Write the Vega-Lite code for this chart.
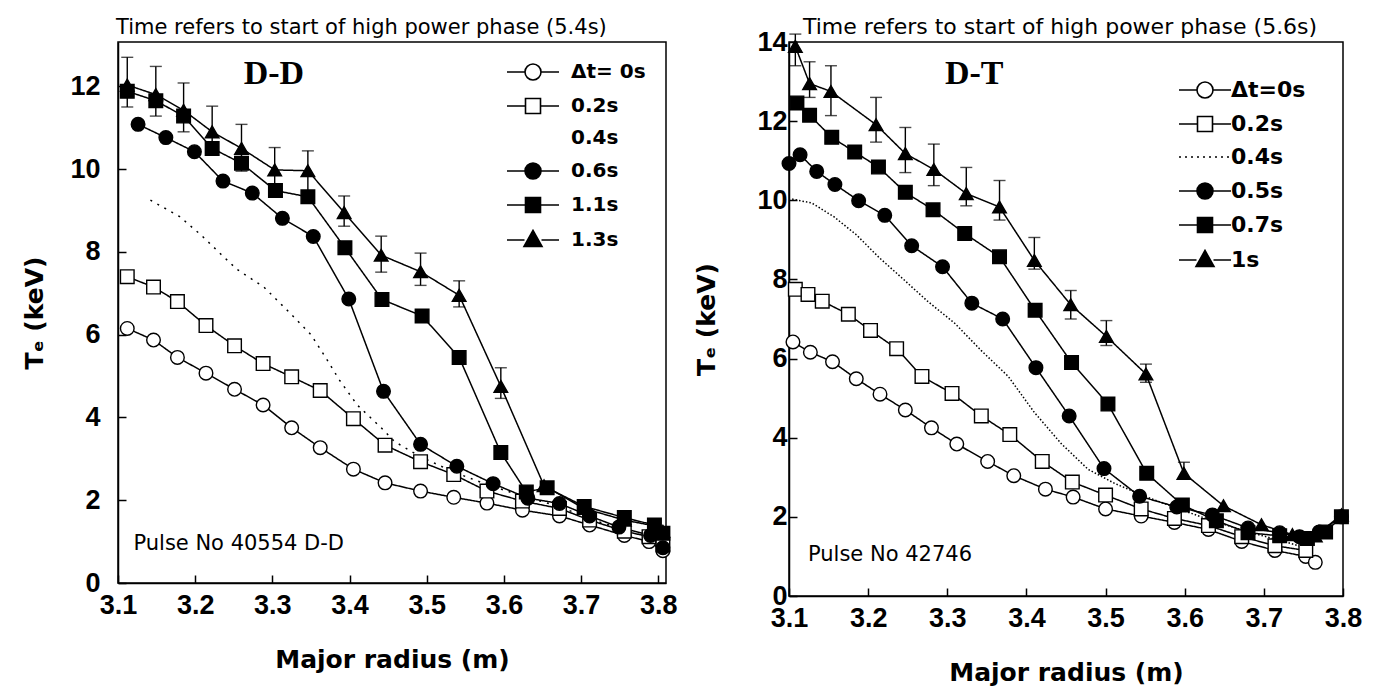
{
  "$schema": "https://vega.github.io/schema/vega-lite/v6.json",
  "padding": {"left": 22, "top": 15, "right": 5, "bottom": 5},
  "spacing": 16,
  "resolve": {"scale": {"x": "independent", "y": "independent", "shape": "independent", "fill": "independent", "strokeDash": "independent"}, "legend": {"shape": "independent", "fill": "independent"}},
  "hconcat": [
    {
      "width": 548,
      "height": 541,
      "title": {"text": "Time refers to start of high power phase (5.4s)", "fontSize": 21, "offset": 4, "dx": -2, "frame": "group"},
      "data": {"values": [
        {"series": "Δt= 0s", "r": 3.112, "te": 6.15}, {"series": "Δt= 0s", "r": 3.146, "te": 5.87}, {"series": "Δt= 0s", "r": 3.177, "te": 5.45}, {"series": "Δt= 0s", "r": 3.214, "te": 5.07}, {"series": "Δt= 0s", "r": 3.251, "te": 4.68}, {"series": "Δt= 0s", "r": 3.288, "te": 4.30}, {"series": "Δt= 0s", "r": 3.325, "te": 3.75}, {"series": "Δt= 0s", "r": 3.362, "te": 3.27}, {"series": "Δt= 0s", "r": 3.405, "te": 2.75}, {"series": "Δt= 0s", "r": 3.446, "te": 2.42}, {"series": "Δt= 0s", "r": 3.492, "te": 2.22}, {"series": "Δt= 0s", "r": 3.535, "te": 2.07}, {"series": "Δt= 0s", "r": 3.578, "te": 1.93}, {"series": "Δt= 0s", "r": 3.624, "te": 1.76}, {"series": "Δt= 0s", "r": 3.672, "te": 1.62}, {"series": "Δt= 0s", "r": 3.711, "te": 1.40}, {"series": "Δt= 0s", "r": 3.756, "te": 1.15}, {"series": "Δt= 0s", "r": 3.788, "te": 1.00}, {"series": "Δt= 0s", "r": 3.806, "te": 0.78},
        {"series": "0.2s", "r": 3.112, "te": 7.40}, {"series": "0.2s", "r": 3.146, "te": 7.15}, {"series": "0.2s", "r": 3.177, "te": 6.80}, {"series": "0.2s", "r": 3.214, "te": 6.22}, {"series": "0.2s", "r": 3.251, "te": 5.73}, {"series": "0.2s", "r": 3.288, "te": 5.30}, {"series": "0.2s", "r": 3.325, "te": 4.98}, {"series": "0.2s", "r": 3.362, "te": 4.65}, {"series": "0.2s", "r": 3.405, "te": 3.97}, {"series": "0.2s", "r": 3.446, "te": 3.33}, {"series": "0.2s", "r": 3.492, "te": 2.93}, {"series": "0.2s", "r": 3.535, "te": 2.62}, {"series": "0.2s", "r": 3.578, "te": 2.22}, {"series": "0.2s", "r": 3.624, "te": 1.98}, {"series": "0.2s", "r": 3.672, "te": 1.80}, {"series": "0.2s", "r": 3.711, "te": 1.52}, {"series": "0.2s", "r": 3.756, "te": 1.25}, {"series": "0.2s", "r": 3.788, "te": 1.12}, {"series": "0.2s", "r": 3.806, "te": 0.92},
        {"series": "0.4s", "r": 3.142, "te": 9.25}, {"series": "0.4s", "r": 3.180, "te": 8.85}, {"series": "0.4s", "r": 3.208, "te": 8.40}, {"series": "0.4s", "r": 3.233, "te": 7.95}, {"series": "0.4s", "r": 3.254, "te": 7.58}, {"series": "0.4s", "r": 3.289, "te": 7.15}, {"series": "0.4s", "r": 3.324, "te": 6.50}, {"series": "0.4s", "r": 3.350, "te": 6.00}, {"series": "0.4s", "r": 3.369, "te": 5.45}, {"series": "0.4s", "r": 3.387, "te": 4.90}, {"series": "0.4s", "r": 3.410, "te": 4.30}, {"series": "0.4s", "r": 3.441, "te": 3.75}, {"series": "0.4s", "r": 3.458, "te": 3.42}, {"series": "0.4s", "r": 3.492, "te": 3.05}, {"series": "0.4s", "r": 3.535, "te": 2.68}, {"series": "0.4s", "r": 3.578, "te": 2.38}, {"series": "0.4s", "r": 3.624, "te": 2.10}, {"series": "0.4s", "r": 3.672, "te": 1.85}, {"series": "0.4s", "r": 3.711, "te": 1.55}, {"series": "0.4s", "r": 3.756, "te": 1.28}, {"series": "0.4s", "r": 3.788, "te": 1.10}, {"series": "0.4s", "r": 3.806, "te": 0.95},
        {"series": "0.6s", "r": 3.126, "te": 11.08}, {"series": "0.6s", "r": 3.162, "te": 10.76}, {"series": "0.6s", "r": 3.199, "te": 10.42}, {"series": "0.6s", "r": 3.236, "te": 9.71}, {"series": "0.6s", "r": 3.274, "te": 9.42}, {"series": "0.6s", "r": 3.313, "te": 8.81}, {"series": "0.6s", "r": 3.353, "te": 8.37}, {"series": "0.6s", "r": 3.399, "te": 6.86}, {"series": "0.6s", "r": 3.444, "te": 4.63}, {"series": "0.6s", "r": 3.492, "te": 3.35}, {"series": "0.6s", "r": 3.539, "te": 2.82}, {"series": "0.6s", "r": 3.586, "te": 2.40}, {"series": "0.6s", "r": 3.631, "te": 2.05}, {"series": "0.6s", "r": 3.672, "te": 1.92}, {"series": "0.6s", "r": 3.711, "te": 1.62}, {"series": "0.6s", "r": 3.749, "te": 1.35}, {"series": "0.6s", "r": 3.790, "te": 1.15}, {"series": "0.6s", "r": 3.806, "te": 0.85},
        {"series": "1.1s", "r": 3.112, "te": 11.88}, {"series": "1.1s", "r": 3.149, "te": 11.65}, {"series": "1.1s", "r": 3.185, "te": 11.28}, {"series": "1.1s", "r": 3.222, "te": 10.50}, {"series": "1.1s", "r": 3.260, "te": 10.14}, {"series": "1.1s", "r": 3.304, "te": 9.48}, {"series": "1.1s", "r": 3.346, "te": 9.33}, {"series": "1.1s", "r": 3.394, "te": 8.10}, {"series": "1.1s", "r": 3.442, "te": 6.85}, {"series": "1.1s", "r": 3.494, "te": 6.45}, {"series": "1.1s", "r": 3.542, "te": 5.45}, {"series": "1.1s", "r": 3.596, "te": 3.15}, {"series": "1.1s", "r": 3.629, "te": 2.20}, {"series": "1.1s", "r": 3.656, "te": 2.30}, {"series": "1.1s", "r": 3.704, "te": 1.85}, {"series": "1.1s", "r": 3.756, "te": 1.58}, {"series": "1.1s", "r": 3.795, "te": 1.40}, {"series": "1.1s", "r": 3.806, "te": 1.20},
        {"series": "1.3s", "r": 3.112, "te": 12.03, "lo": 11.5, "hi": 12.7}, {"series": "1.3s", "r": 3.149, "te": 11.80, "lo": 11.28, "hi": 12.48}, {"series": "1.3s", "r": 3.185, "te": 11.42, "lo": 10.9, "hi": 12.08}, {"series": "1.3s", "r": 3.222, "te": 10.90, "lo": 10.4, "hi": 11.52}, {"series": "1.3s", "r": 3.260, "te": 10.50, "lo": 9.95, "hi": 11.08}, {"series": "1.3s", "r": 3.303, "te": 9.98, "lo": 9.5, "hi": 10.52}, {"series": "1.3s", "r": 3.346, "te": 9.96, "lo": 9.45, "hi": 10.44}, {"series": "1.3s", "r": 3.393, "te": 8.95, "lo": 8.62, "hi": 9.35}, {"series": "1.3s", "r": 3.441, "te": 7.92, "lo": 7.51, "hi": 8.38}, {"series": "1.3s", "r": 3.492, "te": 7.52, "lo": 7.19, "hi": 7.97}, {"series": "1.3s", "r": 3.542, "te": 6.95, "lo": 6.67, "hi": 7.3}, {"series": "1.3s", "r": 3.596, "te": 4.75, "lo": 4.46, "hi": 5.2}, {"series": "1.3s", "r": 3.652, "te": 2.35}, {"series": "1.3s", "r": 3.704, "te": 1.80}, {"series": "1.3s", "r": 3.756, "te": 1.52}, {"series": "1.3s", "r": 3.795, "te": 1.38}, {"series": "1.3s", "r": 3.806, "te": 1.25}
      ]},
      "layer": [
        {
          "mark": {"type": "line", "color": "black"},
          "encoding": {
            "x": {"field": "r", "type": "quantitative", "title": "Major radius (m)", "scale": {"domain": [3.1, 3.81], "nice": false, "zero": false}, "axis": {"values": [3.1, 3.2, 3.3, 3.4, 3.5, 3.6, 3.7, 3.8], "format": ".1f"}},
            "y": {"field": "te", "type": "quantitative", "title": "Tₑ (keV)", "scale": {"domain": [0, 13.07], "nice": false}, "axis": {"values": [0, 2, 4, 6, 8, 10, 12], "labelPadding": 26, "titlePadding": 22}},
            "strokeDash": {"field": "series", "type": "nominal", "scale": {"domain": ["Δt= 0s", "0.2s", "0.4s", "0.6s", "1.1s", "1.3s"], "range": [[1, 0], [1, 0], [2, 6], [1, 0], [1, 0], [1, 0]]}, "legend": null},
            "strokeWidth": {"field": "series", "type": "nominal", "scale": {"domain": ["Δt= 0s", "0.2s", "0.4s", "0.6s", "1.1s", "1.3s"], "range": [1.5, 1.5, 1.2, 1.8, 1.8, 1.8]}, "legend": null}
          }
        },
        {
          "transform": [{"filter": "isValid(datum.lo)"}],
          "mark": {"type": "errorbar", "ticks": {"size": 12}, "color": "black", "thickness": 1.4},
          "encoding": {
            "x": {"field": "r", "type": "quantitative", "title": "Major radius (m)", "scale": {"domain": [3.1, 3.81], "nice": false, "zero": false}},
            "y": {"field": "lo", "type": "quantitative", "title": "Tₑ (keV)", "scale": {"domain": [0, 13.07], "nice": false}},
            "y2": {"field": "hi"}
          }
        },
        {
          "transform": [{"filter": "datum.series !== '0.4s'"}],
          "mark": {"type": "point", "filled": true, "stroke": "black", "strokeWidth": 1.4, "size": 185, "opacity": 1},
          "encoding": {
            "x": {"field": "r", "type": "quantitative", "title": "Major radius (m)", "scale": {"domain": [3.1, 3.81], "nice": false, "zero": false}},
            "y": {"field": "te", "type": "quantitative", "title": "Tₑ (keV)", "scale": {"domain": [0, 13.07], "nice": false}},
            "shape": {"field": "series", "type": "nominal", "scale": {"domain": ["Δt= 0s", "0.2s", "0.4s", "0.6s", "1.1s", "1.3s"], "range": ["circle", "square", "circle", "circle", "square", "triangle-up"]}, "legend": null},
            "fill": {"field": "series", "type": "nominal", "scale": {"domain": ["Δt= 0s", "0.2s", "0.4s", "0.6s", "1.1s", "1.3s"], "range": ["white", "white", "white", "black", "black", "black"]}, "legend": null}
          }
        },
        {
          "mark": {"type": "point", "filled": true, "stroke": "black", "opacity": 0},
          "encoding": {
            "x": {"field": "r", "type": "quantitative", "title": "Major radius (m)", "scale": {"domain": [3.1, 3.81], "nice": false, "zero": false}},
            "y": {"field": "te", "type": "quantitative", "title": "Tₑ (keV)", "scale": {"domain": [0, 13.07], "nice": false}},
            "shape": {"field": "series", "type": "nominal", "scale": {"domain": ["Δt= 0s", "0.2s", "0.4s", "0.6s", "1.1s", "1.3s"], "range": [
              "M-5.2,0H-1.6M1.6,0H5.2M-1.6,0A1.6,1.6,0,1,0,1.6,0A1.6,1.6,0,1,0,-1.6,0Z",
              "M-5.2,0H-1.5M1.5,0H5.2M-1.5,-1.5H1.5V1.5H-1.5Z",
              "M0,0",
              "M-5.2,0H-1.6M1.6,0H5.2M-1.6,0A1.6,1.6,0,1,0,1.6,0A1.6,1.6,0,1,0,-1.6,0Z",
              "M-5.2,0H-1.5M1.5,0H5.2M-1.5,-1.5H1.5V1.5H-1.5Z",
              "M-5.2,0H-1.7M1.7,0H5.2M0,-1.9L1.8,1.3H-1.8Z"
            ]}, "legend": {"title": null, "labelFontSize": 20, "labelOffset": 28, "offset": 20, "rowPadding": 11}},
            "fill": {"field": "series", "type": "nominal", "scale": {"domain": ["Δt= 0s", "0.2s", "0.4s", "0.6s", "1.1s", "1.3s"], "range": ["white", "white", "white", "black", "black", "black"]}, "legend": {"title": null, "labelFontSize": 20, "labelOffset": 28, "offset": 20, "rowPadding": 11}}
          }
        },
        {
          "transform": [{"aggregate": [{"op": "count", "as": "n"}]}],
          "mark": {"type": "text", "text": "D-D", "font": "Liberation Serif", "fontWeight": "bold", "fontSize": 34, "align": "center", "baseline": "middle", "color": "black"},
          "encoding": {"x": {"datum": 3.302, "type": "quantitative"}, "y": {"datum": 12.3, "type": "quantitative"}}
        },
        {
          "transform": [{"aggregate": [{"op": "count", "as": "n"}]}],
          "mark": {"type": "text", "text": "Pulse No 40554 D-D", "font": "DejaVu Sans", "fontSize": 21, "align": "left", "baseline": "middle", "color": "black"},
          "encoding": {"x": {"datum": 3.12, "type": "quantitative"}, "y": {"datum": 0.94, "type": "quantitative"}}
        }
      ],
      "resolve": {"scale": {"shape": "independent", "fill": "independent"}}
    },
    {
      "width": 554,
      "height": 554,
      "title": {"text": "Time refers to start of high power phase (5.6s)", "fontSize": 22, "offset": -11, "dx": 14, "frame": "group"},
      "data": {"values": [
        {"series": "Δt=0s", "r": 3.105, "te": 6.42}, {"series": "Δt=0s", "r": 3.127, "te": 6.16}, {"series": "Δt=0s", "r": 3.155, "te": 5.92}, {"series": "Δt=0s", "r": 3.185, "te": 5.49}, {"series": "Δt=0s", "r": 3.215, "te": 5.10}, {"series": "Δt=0s", "r": 3.247, "te": 4.70}, {"series": "Δt=0s", "r": 3.280, "te": 4.25}, {"series": "Δt=0s", "r": 3.312, "te": 3.84}, {"series": "Δt=0s", "r": 3.351, "te": 3.40}, {"series": "Δt=0s", "r": 3.384, "te": 3.04}, {"series": "Δt=0s", "r": 3.424, "te": 2.70}, {"series": "Δt=0s", "r": 3.459, "te": 2.50}, {"series": "Δt=0s", "r": 3.500, "te": 2.20}, {"series": "Δt=0s", "r": 3.545, "te": 2.02}, {"series": "Δt=0s", "r": 3.587, "te": 1.86}, {"series": "Δt=0s", "r": 3.630, "te": 1.68}, {"series": "Δt=0s", "r": 3.672, "te": 1.38}, {"series": "Δt=0s", "r": 3.714, "te": 1.15}, {"series": "Δt=0s", "r": 3.753, "te": 1.00}, {"series": "Δt=0s", "r": 3.765, "te": 0.85},
        {"series": "0.2s", "r": 3.108, "te": 7.75}, {"series": "0.2s", "r": 3.124, "te": 7.62}, {"series": "0.2s", "r": 3.142, "te": 7.45}, {"series": "0.2s", "r": 3.175, "te": 7.12}, {"series": "0.2s", "r": 3.203, "te": 6.71}, {"series": "0.2s", "r": 3.236, "te": 6.25}, {"series": "0.2s", "r": 3.268, "te": 5.55}, {"series": "0.2s", "r": 3.306, "te": 5.12}, {"series": "0.2s", "r": 3.343, "te": 4.55}, {"series": "0.2s", "r": 3.379, "te": 4.08}, {"series": "0.2s", "r": 3.420, "te": 3.40}, {"series": "0.2s", "r": 3.458, "te": 2.88}, {"series": "0.2s", "r": 3.500, "te": 2.55}, {"series": "0.2s", "r": 3.545, "te": 2.20}, {"series": "0.2s", "r": 3.587, "te": 1.96}, {"series": "0.2s", "r": 3.630, "te": 1.78}, {"series": "0.2s", "r": 3.672, "te": 1.50}, {"series": "0.2s", "r": 3.714, "te": 1.27}, {"series": "0.2s", "r": 3.753, "te": 1.15},
        {"series": "0.4s", "r": 3.104, "te": 10.03}, {"series": "0.4s", "r": 3.129, "te": 9.93}, {"series": "0.4s", "r": 3.157, "te": 9.58}, {"series": "0.4s", "r": 3.185, "te": 9.13}, {"series": "0.4s", "r": 3.214, "te": 8.55}, {"series": "0.4s", "r": 3.242, "te": 8.05}, {"series": "0.4s", "r": 3.275, "te": 7.45}, {"series": "0.4s", "r": 3.309, "te": 6.90}, {"series": "0.4s", "r": 3.343, "te": 6.20}, {"series": "0.4s", "r": 3.377, "te": 5.55}, {"series": "0.4s", "r": 3.410, "te": 4.64}, {"series": "0.4s", "r": 3.444, "te": 3.85}, {"series": "0.4s", "r": 3.478, "te": 3.20}, {"series": "0.4s", "r": 3.512, "te": 2.84}, {"series": "0.4s", "r": 3.551, "te": 2.51}, {"series": "0.4s", "r": 3.590, "te": 2.22}, {"series": "0.4s", "r": 3.635, "te": 1.90}, {"series": "0.4s", "r": 3.680, "te": 1.62}, {"series": "0.4s", "r": 3.725, "te": 1.38}, {"series": "0.4s", "r": 3.759, "te": 1.18},
        {"series": "0.5s", "r": 3.100, "te": 10.93}, {"series": "0.5s", "r": 3.114, "te": 11.15}, {"series": "0.5s", "r": 3.135, "te": 10.73}, {"series": "0.5s", "r": 3.158, "te": 10.40}, {"series": "0.5s", "r": 3.188, "te": 9.99}, {"series": "0.5s", "r": 3.221, "te": 9.62}, {"series": "0.5s", "r": 3.255, "te": 8.85}, {"series": "0.5s", "r": 3.294, "te": 8.32}, {"series": "0.5s", "r": 3.331, "te": 7.40}, {"series": "0.5s", "r": 3.370, "te": 7.00}, {"series": "0.5s", "r": 3.412, "te": 5.77}, {"series": "0.5s", "r": 3.454, "te": 4.55}, {"series": "0.5s", "r": 3.498, "te": 3.22}, {"series": "0.5s", "r": 3.543, "te": 2.52}, {"series": "0.5s", "r": 3.590, "te": 2.25}, {"series": "0.5s", "r": 3.635, "te": 2.05}, {"series": "0.5s", "r": 3.680, "te": 1.72}, {"series": "0.5s", "r": 3.720, "te": 1.60}, {"series": "0.5s", "r": 3.745, "te": 1.50}, {"series": "0.5s", "r": 3.770, "te": 1.62}, {"series": "0.5s", "r": 3.798, "te": 2.00},
        {"series": "0.7s", "r": 3.110, "te": 12.46}, {"series": "0.7s", "r": 3.126, "te": 12.15}, {"series": "0.7s", "r": 3.154, "te": 11.59}, {"series": "0.7s", "r": 3.183, "te": 11.22}, {"series": "0.7s", "r": 3.213, "te": 10.84}, {"series": "0.7s", "r": 3.247, "te": 10.20}, {"series": "0.7s", "r": 3.282, "te": 9.76}, {"series": "0.7s", "r": 3.322, "te": 9.16}, {"series": "0.7s", "r": 3.366, "te": 8.57}, {"series": "0.7s", "r": 3.411, "te": 7.22}, {"series": "0.7s", "r": 3.457, "te": 5.90}, {"series": "0.7s", "r": 3.503, "te": 4.85}, {"series": "0.7s", "r": 3.552, "te": 3.10}, {"series": "0.7s", "r": 3.597, "te": 2.30}, {"series": "0.7s", "r": 3.640, "te": 1.90}, {"series": "0.7s", "r": 3.680, "te": 1.60}, {"series": "0.7s", "r": 3.720, "te": 1.52}, {"series": "0.7s", "r": 3.755, "te": 1.45}, {"series": "0.7s", "r": 3.778, "te": 1.62}, {"series": "0.7s", "r": 3.798, "te": 2.00},
        {"series": "1s", "r": 3.108, "te": 13.89, "lo": 13.4, "hi": 14.2}, {"series": "1s", "r": 3.126, "te": 12.95, "lo": 12.6, "hi": 13.5}, {"series": "1s", "r": 3.153, "te": 12.75, "lo": 12.14, "hi": 13.4}, {"series": "1s", "r": 3.210, "te": 11.91, "lo": 11.47, "hi": 12.6}, {"series": "1s", "r": 3.247, "te": 11.18, "lo": 10.7, "hi": 11.84}, {"series": "1s", "r": 3.283, "te": 10.78, "lo": 10.37, "hi": 11.42}, {"series": "1s", "r": 3.324, "te": 10.17, "lo": 9.86, "hi": 10.83}, {"series": "1s", "r": 3.366, "te": 9.83, "lo": 9.5, "hi": 10.5}, {"series": "1s", "r": 3.410, "te": 8.48, "lo": 8.26, "hi": 9.06}, {"series": "1s", "r": 3.456, "te": 7.36, "lo": 7.0, "hi": 7.72}, {"series": "1s", "r": 3.501, "te": 6.56, "lo": 6.33, "hi": 6.96}, {"series": "1s", "r": 3.551, "te": 5.61, "lo": 5.4, "hi": 5.86}, {"series": "1s", "r": 3.599, "te": 3.10, "lo": 2.95, "hi": 3.38}, {"series": "1s", "r": 3.649, "te": 2.28}, {"series": "1s", "r": 3.697, "te": 1.80}, {"series": "1s", "r": 3.736, "te": 1.55}, {"series": "1s", "r": 3.765, "te": 1.52}, {"series": "1s", "r": 3.798, "te": 2.05}
      ]},
      "layer": [
        {
          "mark": {"type": "line", "color": "black"},
          "encoding": {
            "x": {"field": "r", "type": "quantitative", "title": "Major radius (m)", "scale": {"domain": [3.1, 3.8], "nice": false, "zero": false}, "axis": {"values": [3.1, 3.2, 3.3, 3.4, 3.5, 3.6, 3.7, 3.8], "format": ".1f"}},
            "y": {"field": "te", "type": "quantitative", "title": "Tₑ (keV)", "scale": {"domain": [0, 14], "nice": false}, "axis": {"values": [0, 2, 4, 6, 8, 10, 12, 14], "labelPadding": 10, "titlePadding": 37}},
            "strokeDash": {"field": "series", "type": "nominal", "scale": {"domain": ["Δt=0s", "0.2s", "0.4s", "0.5s", "0.7s", "1s"], "range": [[1, 0], [1, 0], [1.5, 2], [1, 0], [1, 0], [1, 0]]}, "legend": null},
            "strokeWidth": {"field": "series", "type": "nominal", "scale": {"domain": ["Δt=0s", "0.2s", "0.4s", "0.5s", "0.7s", "1s"], "range": [1.5, 1.5, 1.1, 1.8, 1.8, 1.8]}, "legend": null}
          }
        },
        {
          "transform": [{"filter": "isValid(datum.lo)"}],
          "mark": {"type": "errorbar", "ticks": {"size": 12}, "color": "black", "thickness": 1.4},
          "encoding": {
            "x": {"field": "r", "type": "quantitative", "title": "Major radius (m)", "scale": {"domain": [3.1, 3.8], "nice": false, "zero": false}},
            "y": {"field": "lo", "type": "quantitative", "title": "Tₑ (keV)", "scale": {"domain": [0, 14], "nice": false}},
            "y2": {"field": "hi"}
          }
        },
        {
          "transform": [{"filter": "datum.series !== '0.4s'"}],
          "mark": {"type": "point", "filled": true, "stroke": "black", "strokeWidth": 1.4, "size": 185, "opacity": 1},
          "encoding": {
            "x": {"field": "r", "type": "quantitative", "title": "Major radius (m)", "scale": {"domain": [3.1, 3.8], "nice": false, "zero": false}},
            "y": {"field": "te", "type": "quantitative", "title": "Tₑ (keV)", "scale": {"domain": [0, 14], "nice": false}},
            "shape": {"field": "series", "type": "nominal", "scale": {"domain": ["Δt=0s", "0.2s", "0.4s", "0.5s", "0.7s", "1s"], "range": ["circle", "square", "circle", "circle", "square", "triangle-up"]}, "legend": null},
            "fill": {"field": "series", "type": "nominal", "scale": {"domain": ["Δt=0s", "0.2s", "0.4s", "0.5s", "0.7s", "1s"], "range": ["white", "white", "white", "black", "black", "black"]}, "legend": null}
          }
        },
        {
          "mark": {"type": "point", "filled": true, "stroke": "black", "opacity": 0},
          "encoding": {
            "x": {"field": "r", "type": "quantitative", "title": "Major radius (m)", "scale": {"domain": [3.1, 3.8], "nice": false, "zero": false}},
            "y": {"field": "te", "type": "quantitative", "title": "Tₑ (keV)", "scale": {"domain": [0, 14], "nice": false}},
            "shape": {"field": "series", "type": "nominal", "scale": {"domain": ["Δt=0s", "0.2s", "0.4s", "0.5s", "0.7s", "1s"], "range": [
              "M-5.2,0H-1.6M1.6,0H5.2M-1.6,0A1.6,1.6,0,1,0,1.6,0A1.6,1.6,0,1,0,-1.6,0Z",
              "M-5.2,0H-1.5M1.5,0H5.2M-1.5,-1.5H1.5V1.5H-1.5Z",
              "M-5.2,0H-4.8M-4,0H-3.6M-2.8,0H-2.4M-1.6,0H-1.2M-0.4,0H0M0.8,0H1.2M2,0H2.4M3.2,0H3.6M4.4,0H4.8",
              "M-5.2,0H-1.6M1.6,0H5.2M-1.6,0A1.6,1.6,0,1,0,1.6,0A1.6,1.6,0,1,0,-1.6,0Z",
              "M-5.2,0H-1.5M1.5,0H5.2M-1.5,-1.5H1.5V1.5H-1.5Z",
              "M-5.2,0H-1.7M1.7,0H5.2M0,-1.9L1.8,1.3H-1.8Z"
            ]}, "legend": {"title": null, "labelFontSize": 22, "labelOffset": 15, "offset": 37, "rowPadding": 11}},
            "fill": {"field": "series", "type": "nominal", "scale": {"domain": ["Δt=0s", "0.2s", "0.4s", "0.5s", "0.7s", "1s"], "range": ["white", "white", "white", "black", "black", "black"]}, "legend": {"title": null, "labelFontSize": 22, "labelOffset": 15, "offset": 37, "rowPadding": 11}}
          }
        },
        {
          "transform": [{"aggregate": [{"op": "count", "as": "n"}]}],
          "mark": {"type": "text", "text": "D-T", "font": "Liberation Serif", "fontWeight": "bold", "fontSize": 34, "align": "center", "baseline": "middle", "color": "black"},
          "encoding": {"x": {"datum": 3.334, "type": "quantitative"}, "y": {"datum": 13.2, "type": "quantitative"}}
        },
        {
          "transform": [{"aggregate": [{"op": "count", "as": "n"}]}],
          "mark": {"type": "text", "text": "Pulse No 42746", "font": "DejaVu Sans", "fontSize": 21, "align": "left", "baseline": "middle", "color": "black"},
          "encoding": {"x": {"datum": 3.124, "type": "quantitative"}, "y": {"datum": 1.04, "type": "quantitative"}}
        }
      ],
      "resolve": {"scale": {"shape": "independent", "fill": "independent"}}
    }
  ],
  "config": {
    "view": {"stroke": "black", "strokeWidth": 1.5},
    "axis": {"grid": false, "domainColor": "black", "domainWidth": 1.5, "tickColor": "black", "tickWidth": 1.5, "tickSize": -8, "labelFont": "Liberation Sans", "labelFontSize": 27, "labelFontWeight": "bold", "labelColor": "black", "titleFont": "DejaVu Sans", "titleFontSize": 25, "titleFontWeight": "bold", "titleColor": "black", "labelFlush": false, "labelOverlap": false},
    "axisX": {"labelPadding": 17, "titlePadding": 29},
    "legend": {"labelFont": "DejaVu Sans", "labelFontWeight": "bold", "labelColor": "black", "symbolSize": 100, "symbolStrokeColor": "black", "symbolFillColor": "white", "symbolOpacity": 1, "symbolStrokeWidth": 1.6, "orient": "top-right", "padding": 0},
    "title": {"font": "DejaVu Sans", "fontWeight": "normal", "color": "black", "anchor": "start", "baseline": "bottom"}
  }
}
